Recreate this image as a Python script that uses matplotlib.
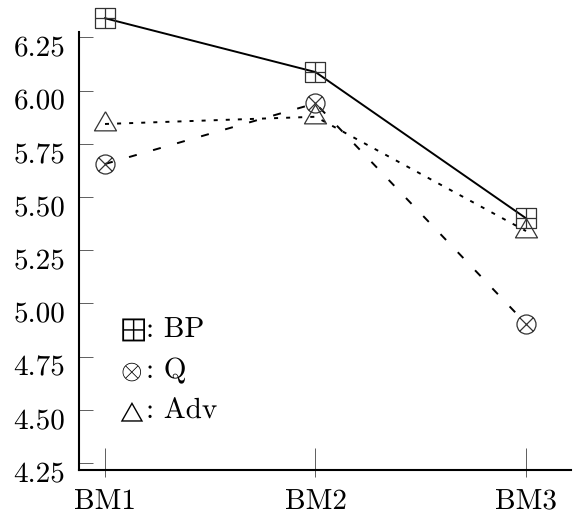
import numpy as np
import matplotlib
matplotlib.use("Agg")
import matplotlib.pyplot as plt
from matplotlib.path import Path
from matplotlib.transforms import ScaledTranslation

benchmarks = ["BM1", "BM2", "BM3"]
bp = [6.34, 6.087, 5.40]
q = [5.655, 5.94, 4.905]
adv = [5.843, 5.877, 5.34]
names = ["BP", "Q", "Adv"]
symbols = [r"$\boxplus$", r"$\otimes$", r"$\triangle$"]
yticks = [4.25, 4.50, 4.75, 5.00, 5.25, 5.50, 5.75, 6.00, 6.25]

plt.rcParams["font.family"] = "cmr10"
plt.rcParams["mathtext.fontset"] = "cm"
plt.rcParams["lines.scale_dashes"] = False
plt.rcParams["text.hinting"] = "no_hinting"

# pgfplots-like marks: square with plus, circle with cross, triangle around its centre
M, L = Path.MOVETO, Path.LINETO
boxplus = Path([(-1, -1), (1, -1), (1, 1), (-1, 1), (-1, -1), (0, -1), (0, 1), (-1, 0), (1, 0)],
               [M, L, L, L, L, M, L, M, L])
s = np.sqrt(0.5)
otimes = Path.make_compound_path(Path.unit_circle(),
                                 Path([(-s, -s), (s, s), (-s, s), (s, -s)], [M, L, M, L]))
tri = Path([(0, 1), (-0.866, -0.5), (0.866, -0.5), (0, 1)], [M, L, L, L])

fig = plt.figure(figsize=(5.79, 5.16), dpi=100)
ax = fig.add_axes([79 / 579, 46 / 516, 492 / 579, 438.3 / 516])

x = np.arange(len(benchmarks))
mk = dict(mfc="none", mec="#333333", mew=0.9, color="black", lw=1.4, clip_on=False)
ax.plot(x, bp, marker=boxplus, ms=13.7, **mk)
ax.plot(x, q, marker=otimes, ms=13.7, dashes=(5.8, 12.2), **mk)
ax.plot(x, adv, marker=tri, ms=18.3, dashes=(2.9, 5.8), **mk)

ax.set_xlim(-0.1235, 2.2138)
ax.set_ylim(4.217, 6.2767)

for side in ["top", "right"]:
    ax.spines[side].set_visible(False)
for side in ["left", "bottom"]:
    ax.spines[side].set_linewidth(1.5)

ax.set_xticks(x, benchmarks)
ax.set_xticks(x, minor=True)
ax.xaxis.remove_overlapping_locs = False
ax.tick_params(axis="x", which="major", direction="in", length=15.8, width=0.6,
               color="#444444", pad=13.5, labelsize=21)
ax.tick_params(axis="x", which="minor", direction="out", length=5, width=0.6, color="#444444")

ax.set_yticks(yticks, [f"{v:.2f}" for v in yticks])
ax.tick_params(axis="y", direction="in", length=10, width=0.6, color="#444444",
               pad=10, labelsize=21)
shift = ScaledTranslation(0, -0.09, fig.dpi_scale_trans)
for lab in ax.get_yticklabels():
    lab.set_transform(lab.get_transform() + shift)

# legend as plain symbol text: mark, then ": name"
for sym, name, yy, fs, xs in zip(symbols, names, [0.304, 0.209, 0.118],
                                 [20, 20, 15], [0.083, 0.083, 0.076]):
    ax.text(xs, yy, sym, transform=ax.transAxes, fontsize=fs, va="baseline", ha="left")
    ax.text(0.136, yy, f": {name}", transform=ax.transAxes, fontsize=21,
            va="baseline", ha="left")

fig.savefig("out.png", dpi=100)
